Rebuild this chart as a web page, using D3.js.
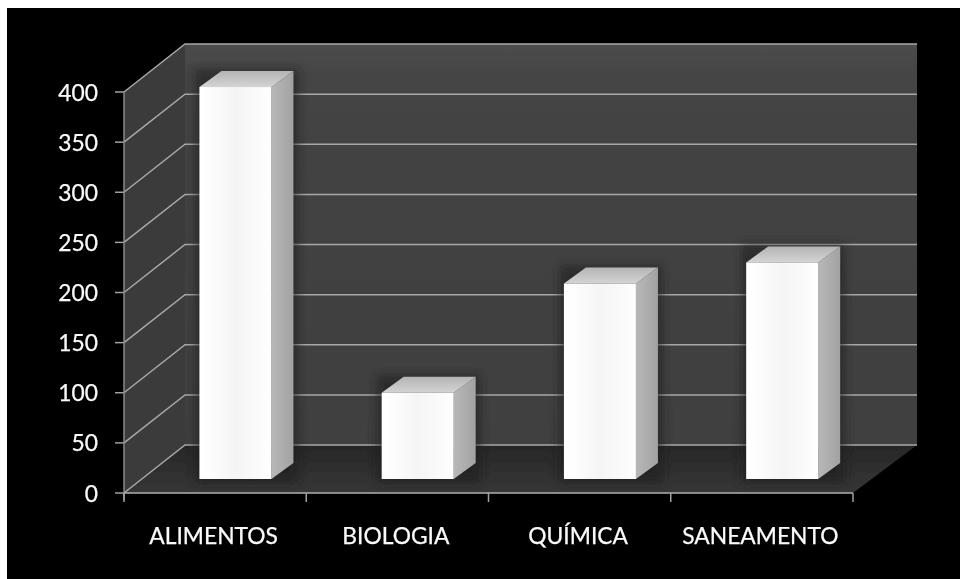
<!DOCTYPE html>
<html><head><meta charset="utf-8">
<script src="https://cdn.jsdelivr.net/npm/d3@7"></script>
<style>html,body{margin:0;padding:0;background:#fff}svg{display:block}text{font-family:Lato,"Open Sans",sans-serif;fill:#fafafa;stroke:#fafafa;stroke-width:0.25px}</style>
</head><body><svg id="c" width="960" height="579"></svg>
<script>
const categories = ["ALIMENTOS","BIOLOGIA","QUÍMICA","SANEAMENTO"];
const values = [391,86,195,216];
const yTicks = [0,50,100,150,200,250,300,350,400];

const W=960,H=579;
const svg=d3.select("#c");
const y=d3.scaleLinear().domain([0,400]).range([493,92]);
const x=d3.scaleBand().domain(categories).range([124,853]).paddingInner(0.605).paddingOuter(0.3025);
const depth={dx:61,dy:-48};
const bar={ox:20.3,oy:-14,dx:22,dy:-16};
const defs=svg.append("defs");
const soft=defs.append("filter").attr("id","soft");
soft.append("feGaussianBlur").attr("stdDeviation",0.7);
const soft2=defs.append("filter").attr("id","soft2").attr("x","-20%").attr("y","-20%").attr("width","140%").attr("height","140%");
soft2.append("feGaussianBlur").attr("stdDeviation",4);
function grad(id,x2,y2,stops){const g=defs.append("linearGradient").attr("id",id).attr("x1",0).attr("y1",0).attr("x2",x2).attr("y2",y2);
 stops.forEach(s=>g.append("stop").attr("offset",s[0]).attr("stop-color",s[1]));}
grad("front",1,0,[[0,"#ffffff"],[0.15,"#fdfdfd"],[0.5,"#f5f5f5"],[0.85,"#fbfbfb"],[1,"#ffffff"]]);
grad("side",1,0,[[0,"#b8b8b8"],[1,"#a2a2a2"]]);
grad("topFace",0,1,[[0,"#b4b4b4"],[1,"#d4d4d4"]]);
grad("wall",0,1,[[0,"#4c4c4c"],[0.08,"#444444"],[1,"#3f3f3f"]]);
grad("floor",0,1,[[0,"#272727"],[1,"#363636"]]);

svg.append("rect").attr("width",W).attr("height",H).attr("fill","#fff");
svg.append("rect").attr("x",7).attr("y",8).attr("width",W-7).attr("height",H-8).attr("fill","#000");

const g=svg.append("g").attr("filter","url(#soft)");
const line=d3.line();
const yTop=y(400),yBot=y(0),L=x.range()[0],R=x.range()[1];
g.append("path").attr("d",line([[L,yTop],[L+depth.dx,yTop+depth.dy],[L+depth.dx,yBot+depth.dy],[L,yBot]])+"Z").attr("fill","#3b3b3b");
g.append("path").attr("d",line([[L+depth.dx,yTop+depth.dy],[R+depth.dx+3,yTop+depth.dy],[R+depth.dx+3,yBot+depth.dy],[L+depth.dx,yBot+depth.dy]])+"Z").attr("fill","url(#wall)");
g.append("path").attr("d",line([[L,yBot],[R,yBot],[R+depth.dx+3,yBot+depth.dy],[L+depth.dx,yBot+depth.dy]])+"Z").attr("fill","url(#floor)");

yTicks.forEach(t=>{
 g.append("path").attr("d",line([[L,y(t)],[L+depth.dx,y(t)+depth.dy],[R+depth.dx+3,y(t)+depth.dy]])).attr("fill","none").attr("stroke","#a8a8a8").attr("stroke-width",1.5);
 g.append("line").attr("x1",L-9).attr("x2",L).attr("y1",y(t)).attr("y2",y(t)).attr("stroke","#a0a0a0").attr("stroke-width",1.5);
});
g.append("line").attr("x1",L).attr("x2",L).attr("y1",yTop).attr("y2",yBot+7).attr("stroke","#8a8a8a").attr("stroke-width",1.5);
g.append("line").attr("x1",L).attr("x2",R).attr("y1",yBot).attr("y2",yBot).attr("stroke","#b0b0b0").attr("stroke-width",1.7);
const step=x.step();
d3.range(5).forEach(i=>{const px=L+i*step;
 g.append("line").attr("x1",px).attr("x2",px).attr("y1",yBot).attr("y2",yBot+9).attr("stroke","#a0a0a0").attr("stroke-width",1.5);});

categories.forEach((c,i)=>{
 const x0=x(c)+bar.ox,w=x.bandwidth(),yt=y(values[i])+bar.oy,yb=y(0)+bar.oy;
 g.append("path").attr("d",line([[x0-5,yt+bar.dy-2],[x0+w+bar.dx+5,yt+bar.dy-2],[x0+w+bar.dx+5,yb+4],[x0-5,yb+4]])+"Z").attr("fill","#1c1c1c").attr("opacity",0.55).attr("filter","url(#soft2)");
 g.append("path").attr("d",line([[x0+w,yt],[x0+w+bar.dx,yt+bar.dy],[x0+w+bar.dx,yb+bar.dy],[x0+w,yb]])+"Z").attr("fill","url(#side)");
 g.append("path").attr("d",line([[x0,yt],[x0+bar.dx,yt+bar.dy],[x0+w+bar.dx,yt+bar.dy],[x0+w,yt]])+"Z").attr("fill","url(#topFace)");
 g.append("rect").attr("x",x0).attr("y",yt).attr("width",w).attr("height",yb-yt).attr("fill","url(#front)");
});

const t=svg.append("g").attr("filter","url(#soft)").style("font-size","22.8px");
yTicks.forEach(v=>t.append("text").attr("x",98).attr("y",y(v)+8.5).attr("text-anchor","end").text(v));
categories.forEach((c,i)=>t.append("text").attr("x",x(c)+x.bandwidth()/2-1.5).attr("y",544).attr("text-anchor","middle").text(c));
</script></body></html>
